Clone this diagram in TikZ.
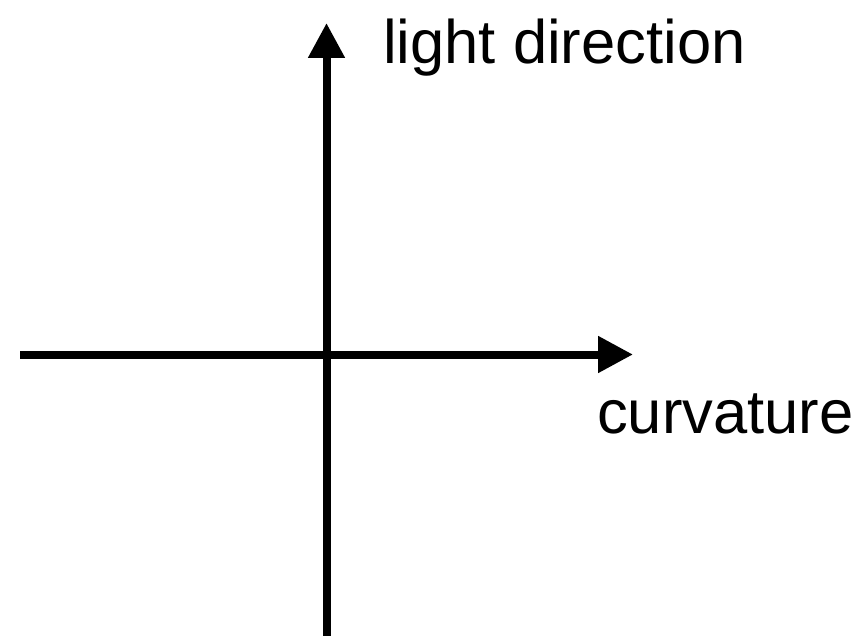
\documentclass[tikz,border=0pt]{standalone}
\usepackage{fontspec}
\setmainfont{Liberation Sans}
\usetikzlibrary{arrows.meta,positioning}

\begin{document}
\begin{tikzpicture}[x=1pt, y=-1pt, >={Triangle[length=35pt,width=35pt]},
    axis/.style={line width=8pt, ->},
    lbl/.style={inner sep=0pt, anchor=base west, font=\fontsize{61.5}{72}\selectfont}]
    \useasboundingbox (0,0) rectangle (861,636);
    \coordinate (xmin) at (20,354.5);
    \coordinate (xmax) at (633,354.5);
    \coordinate (ymin) at (326.5,636);
    \coordinate (ymax) at (326.5,23);
    \draw[axis] (xmin) -- (xmax);
    \draw[axis] (ymin) -- (ymax);
    \node[lbl] (light) at (383,64) {light direction};
    \node[lbl] (curv) at (597,433) {curvature};
  \end{tikzpicture}
\end{document}
